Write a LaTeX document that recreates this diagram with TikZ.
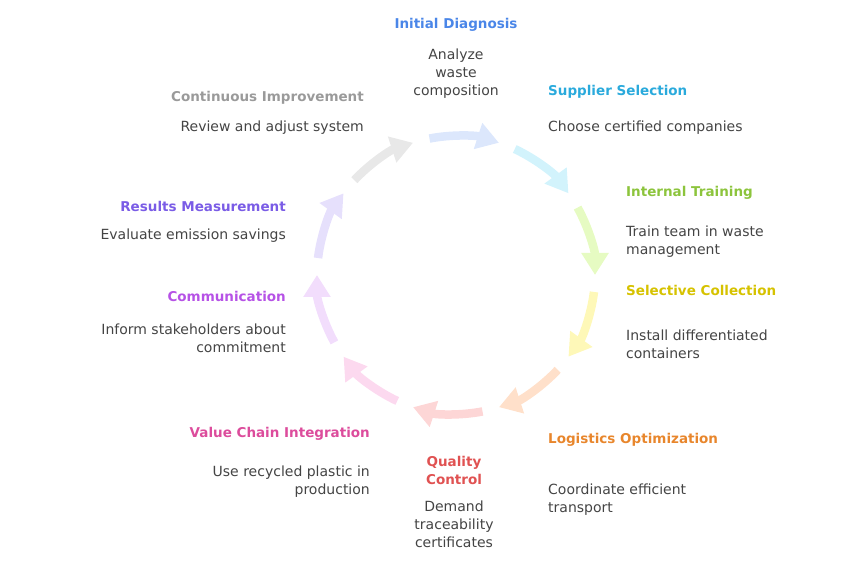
\documentclass[tikz,border=0pt]{standalone}
\usepackage{fontspec}
\setmainfont{DejaVu Sans}
\usetikzlibrary{arrows.meta}
\definecolor{txt}{HTML}{444444}
\definecolor{c1}{HTML}{4A86E8}
\definecolor{c2}{HTML}{2AAADC}
\definecolor{c3}{HTML}{8CC43C}
\definecolor{c4}{HTML}{D6C200}
\definecolor{c5}{HTML}{E8862C}
\definecolor{c6}{HTML}{E05252}
\definecolor{c7}{HTML}{DC4C9C}
\definecolor{c8}{HTML}{B652E6}
\definecolor{c9}{HTML}{7A5CE6}
\definecolor{c10}{HTML}{9A9A9A}
\definecolor{a1}{HTML}{DCE7FC}
\definecolor{a2}{HTML}{D2F3FC}
\definecolor{a3}{HTML}{E6FBC2}
\definecolor{a4}{HTML}{FEF8B8}
\definecolor{a5}{HTML}{FFE0CA}
\definecolor{a6}{HTML}{FDD6D6}
\definecolor{a7}{HTML}{FCD9EF}
\definecolor{a8}{HTML}{F2DDFC}
\definecolor{a9}{HTML}{E6E0FC}
\definecolor{a10}{HTML}{E8E8E8}

\begin{document}
\begin{tikzpicture}
[x=1pt,y=1pt,every node/.style={inner sep=0pt,text=txt,font=\fontsize{14}{18}\selectfont},
 ttl/.style={font=\fontsize{13.5}{18}\selectfont\bfseries}]
\useasboundingbox (0,0) rectangle (852,564);
\coordinate (ctr) at (456,289);
% cycle arrows
\foreach \i/\col in {0/a1,1/a2,2/a3,3/a4,4/a5,5/a6,6/a7,7/a8,8/a9,9/a10}
\draw[\col,line width=8.5pt,-{Triangle[length=22pt,width=26pt]}]
  (ctr) ++({101-36*\i}:139) arc[start angle={101-36*\i},end angle={72-36*\i},radius=139];
% steps
\node[ttl,text=c1] (diag) at (456,539) {Initial Diagnosis};
\node[align=center] (diagtxt) at (456,490) {Analyze\\waste\\composition};
\node[ttl,text=c2,anchor=west] (supp) at (548,472) {Supplier Selection};
\node[anchor=west] (supptxt) at (548,436) {Choose certified companies};
\node[ttl,text=c3,anchor=west] (train) at (626,371) {Internal Training};
\node[anchor=west,align=left] (traintxt) at (626,322) {Train team in waste\\management};
\node[ttl,text=c4,anchor=west] (coll) at (626,274) {Selective Collection};
\node[anchor=west,align=left] (colltxt) at (626,220) {Install differentiated\\containers};
\node[ttl,text=c5,anchor=west] (logi) at (548,124) {Logistics Optimization};
\node[anchor=west,align=left] (logitxt) at (548,64) {Coordinate efficient\\transport};
\node[ttl,text=c6,align=center] (qual) at (454,94) {Quality\\Control};
\node[align=center] (qualtxt) at (454,40) {Demand\\traceability\\certificates};
\node[ttl,text=c7,anchor=east] (chain) at (370,130) {Value Chain Integration};
\node[anchor=east,align=right] (chaintxt) at (370,82) {Use recycled plastic in\\production};
\node[ttl,text=c8,anchor=east] (comm) at (286,268) {Communication};
\node[anchor=east,align=right] (commtxt) at (286,226) {Inform stakeholders about\\commitment};
\node[ttl,text=c9,anchor=east] (meas) at (286,358) {Results Measurement};
\node[anchor=east] (meastxt) at (286,328) {Evaluate emission savings};
\node[ttl,text=c10,anchor=east] (impr) at (364,466) {Continuous Improvement};
\node[anchor=east] (imprtxt) at (364,436) {Review and adjust system};
\end{tikzpicture}
\end{document}
